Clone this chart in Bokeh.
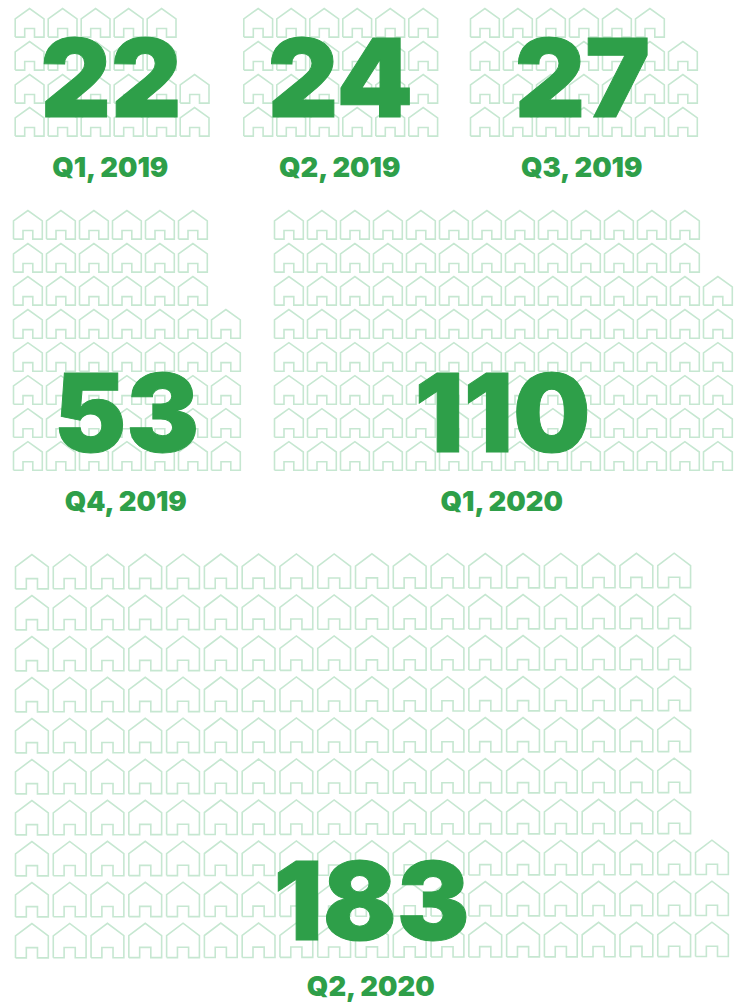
from bokeh.plotting import figure
from bokeh.models import Range1d, ColumnDataSource
from bokeh.core.properties import value
from bokeh.embed import file_html
from bokeh.resources import INLINE

# ---- data ----
quarters = ["Q1, 2019", "Q2, 2019", "Q3, 2019", "Q4, 2019", "Q1, 2020", "Q2, 2020"]
counts = [22, 24, 27, 53, 110, 183]
# houses per row, top to bottom (each sums to the quarter's count)
rows_q1_2019 = [5, 5, 6, 6]
rows_q2_2019 = [6, 6, 6, 6]
rows_q3_2019 = [6, 7, 7, 7]
rows_q4_2019 = [6, 6, 6, 7, 7, 7, 7, 7]
rows_q1_2020 = [13, 13, 14, 14, 14, 14, 14, 14]
rows_q2_2020 = [18, 18, 18, 18, 18, 18, 18, 19, 19, 19]
rows = [rows_q1_2019, rows_q2_2019, rows_q3_2019, rows_q4_2019, rows_q1_2020, rows_q2_2020]

# ---- layout (page pixels) ----
W, H = 741, 1002
NUM_SIZE, LABEL_SIZE = 109, 27.4
BASE_SHIFT = 0.36   # em: where this renderer puts the text relative to its y
# left, apex y, house w, house h, x pitch, y pitch, tilt, text centre, number base, label base
panels = [
    (14.7, 8.0, 28.8, 28.6, 33.0, 33.0, 0.0, 110.5, 116, 176),
    (243.3, 8.0, 28.8, 28.6, 33.0, 33.0, 0.0, 340, 116, 176),
    (470.0, 8.0, 28.8, 28.6, 33.0, 33.0, 0.0, 582, 116, 176),
    (13.0, 210.0, 28.8, 28.6, 33.0, 33.03, 0.0, 126, 451, 510),
    (274.0, 210.0, 28.8, 28.6, 33.0, 33.03, 0.0, 502, 451, 510),
    (15.0, 554.0, 32.8, 34.4, 37.78, 41.0, 0.002, 371, 939, 995),
]
# outline of one house, as fractions of its width and height
HOUSE_X = [0, 0, 0.5, 1, 1, 0.67, 0.67, 0.33, 0.33, 0]
HOUSE_Y = [1, 0.36, 0, 0.36, 1, 1, 0.70, 0.70, 1, 1]

GREEN = "#2e9f49"
PALE = "#c6e7d1"

xs, ys = [], []
for row_counts, (left, top, w, h, px, py, tilt, *_rest) in zip(rows, panels):
    for r, n in enumerate(row_counts):
        for c in range(n):
            x0 = left + c * px
            y0 = top + r * py - (x0 - left) * tilt
            xs.append([x0 + f * w for f in HOUSE_X])
            ys.append([y0 + f * h for f in HOUSE_Y])

p = figure(width=W, height=H, output_backend="svg", toolbar_location=None,
           x_range=Range1d(0, W), y_range=Range1d(H, 0), min_border=0)
p.axis.visible = False
p.grid.visible = False
p.outline_line_color = None
p.background_fill_color = "white"

p.multi_line(xs="xs", ys="ys", source=ColumnDataSource(dict(xs=xs, ys=ys)),
             line_color=PALE, line_width=1.6, line_join="miter")

cx = [q[7] for q in panels]
p.text(cx, [q[8] - BASE_SHIFT * NUM_SIZE for q in panels], text=[str(v) for v in counts],
       text_font=value("Inter Black"), text_font_size=f"{NUM_SIZE}px",
       text_color=GREEN, text_outline_color=GREEN, text_align="center", text_baseline="alphabetic")
p.text(cx, [q[9] - BASE_SHIFT * LABEL_SIZE for q in panels], text=quarters,
       text_font=value("Inter Black"), text_font_size=f"{LABEL_SIZE}px",
       text_color=GREEN, text_align="center", text_baseline="alphabetic")

open("out.html", "w").write(file_html(p, INLINE))
